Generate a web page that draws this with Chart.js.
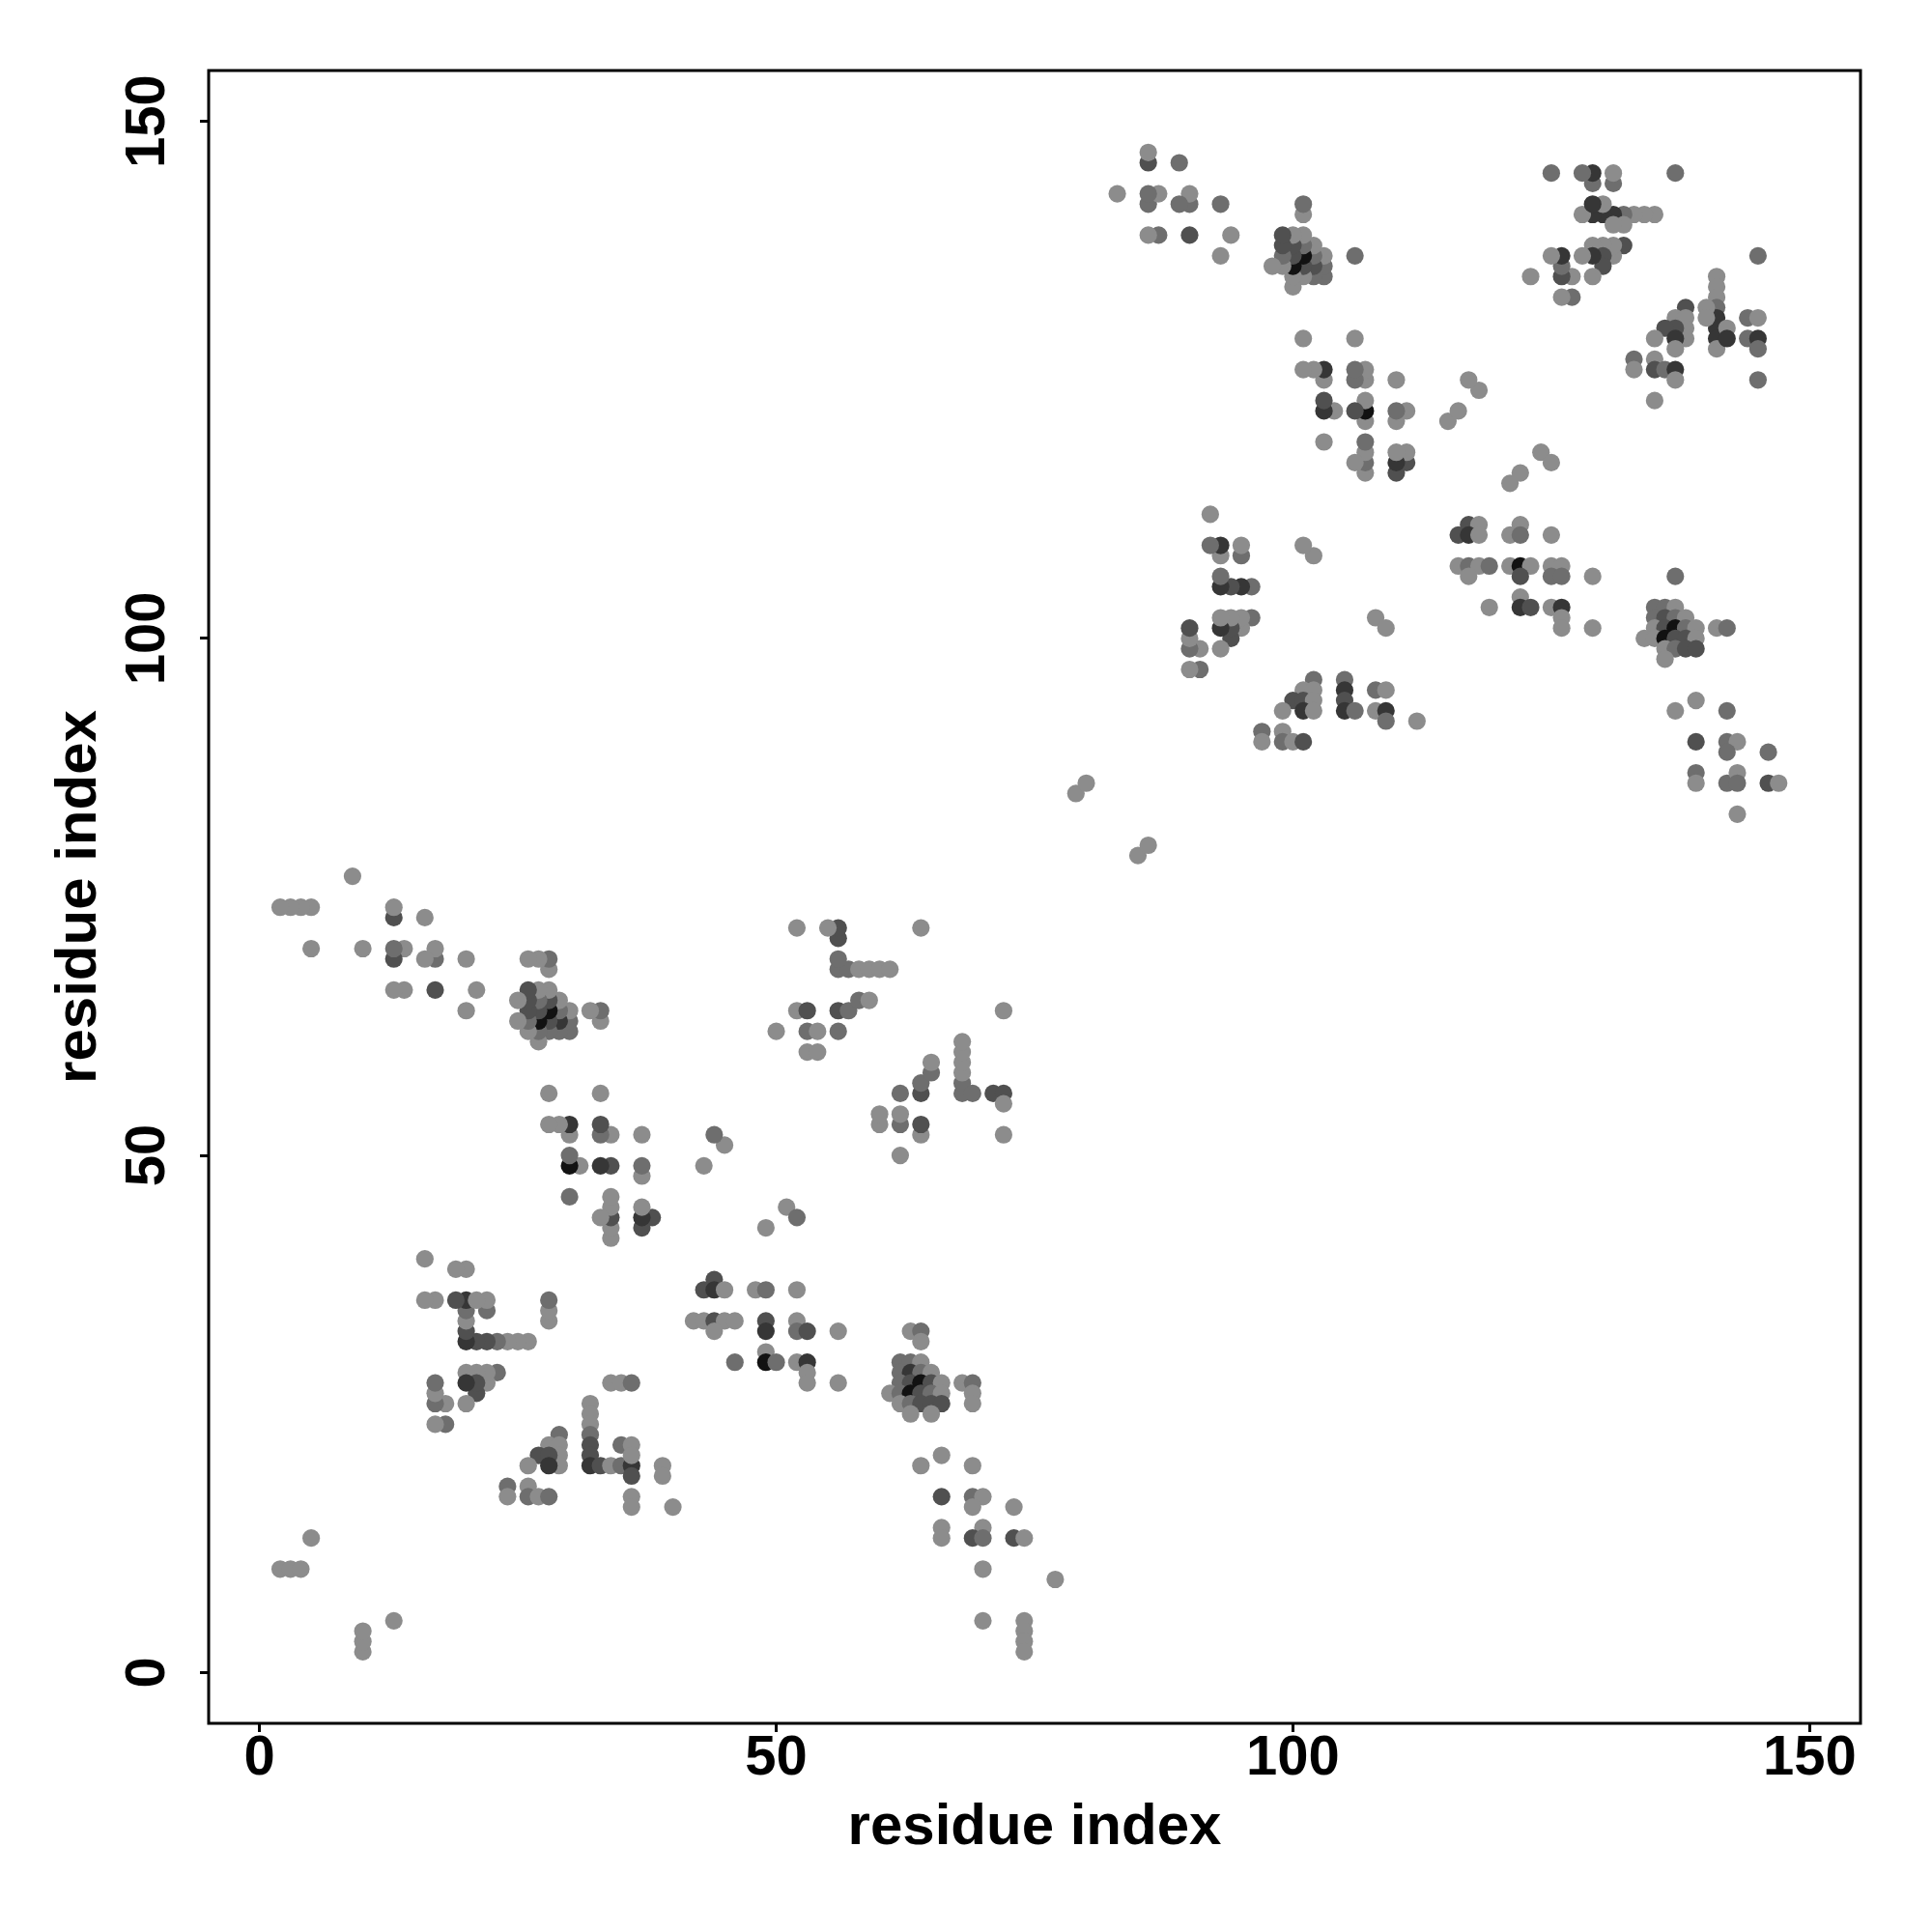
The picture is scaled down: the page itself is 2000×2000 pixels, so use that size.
<!DOCTYPE html>
<html><head><meta charset="utf-8">
<script src="https://cdn.jsdelivr.net/npm/chart.js@4.4.1/dist/chart.umd.min.js"></script>
<style>html,body{margin:0;padding:0;background:#fff}canvas{display:block}</style>
</head><body>
<canvas id="c" width="2000" height="2000"></canvas>
<script>
// Contact pairs read from the lower-right half (i > j); the map is symmetric.
const residueI = [
 10,10,10,13,
 34,35,36, 32,32,32,32,32,32,32, 33,34,35,36, 35,36,36,36,36,36, 39,39,40,
 29,28,27,29,29,29,28,28,26, 24,24,26,26,27,28,
 51,52,49, 44,43,44,45,48,49,52, 42,43,44,45,46,44, 49,49,52,52,53,56,
 46,49,49,50,52,53,53,53,56,
 63,64,64, 62,63,64, 62,63,64,65, 62,63,64,65,66, 61,62,63,64,65,66, 62,63,64,65,66, 63,65,
 68,69,69,69,
 64,66,69,66,69,70,69,73, 66,66,70,69,70,73,74, 70,77,70,74,74,74,74,
 62,60,60,62,62,64,64,62,64,64,65,65, 68,68,68,68,68,68,69,71,72,72,72,72,
 85,86,
 145, 141,141,141,141,141,141,141,141, 140,140,142,142, 144,145,144,145,145,145,
 138,137,138,138,138,137,136,137,137,135, 135,135,136,137,137, 133,133,135,
 117,118,116,117,118, 122,121,122,125,
 116,117,118,119,121,122,123,125,126, 117,122,125,126,129,
 119,122,122,123,125,126,126,126,129,
 124,125,121,122,
 137, 135,136,137, 135,136,137,138, 135,136,137,138,139, 134,135,136,137,138,139,
 136,137,138,139, 136, 141,142, 139,137,142, 139,142,143,142,146,
 139,139,142,143,143,146,147,143,
 108,109, 102,101,102,100,101,102,99,101,102, 105,105,105,105,106,
 108,109,108,109,109,112, 97,97,99,99,100,101
];
const residueJ = [
 2,3,4,5,
 28,28,28, 26,25,24,23,22,21,20, 20,20,20,20, 22,22,21,19,17,16, 20,19,16,
 23,22,21,22,21,20,21,20,20, 18,17,18,17,17,17,
 45,44,43, 38,37,37,37,37,37,37, 34,34,34,34,34,33, 34,33,34,33,33,33,
 30,31,30,30,30,30,29,28,28,
 33,33,32, 30,30,30, 29,29,29,29, 28,28,28,28,28, 27,27,27,27,27,27, 26,26,26,26,26, 25,25,
 28,28,27,26,
 20,21,20,17,17,17,16,16, 14,13,14,13,13,13,13, 10,9,5,5,4,3,2,
 50,53,54,53,54,52,53,56,56,57,58,59, 56,57,58,59,60,61,56,56,56,55,52,64,
 79,80,
 137, 135,134,133,132,131,130,129,128, 132,131,130,129, 131,131,129,129,128,125,
 132,131,131,130,129,130,130,129,128,129, 127,126,126,126,125, 127,126,123,
 111,111,110,110,110, 111,110,110,110,
 107,107,107,107,107,107,107,107,107, 106,106,106,106,106,
 103,104,103,103,103,103,102,101,101,
 118,117,115,116,
 106, 103,103,103, 102,102,102,102, 101,101,101,101,101, 100,100,100,100,100,100,
 99,99,99,99, 98, 101,101, 94,93,93, 90,90,90,89,89,
 87,86,86,87,86,86,86,83,
 102,101, 96,95,95,94,94,94,93,93,93, 96,95,94,93,93,
 95,95,93,93,92,92, 91,90,91,90,90,90
];
// shade level: 1 light grey ... 5 near black
const shade = [
 1,1,1,1,
 1,1,2, 1,1,1,2,3,3,4, 3,1,2,4, 2,1,1,3,1,1, 1,1,1,
 2,1,3,1,1,1,3,4,1, 2,1,1,2,1,2,
 1,2,1, 3,3,4,1,1,2,1, 1,1,3,1,1,1, 3,4,1,2,3,1,
 2,1,5,2,1,4,1,1,1,
 1,2,1, 2,2,1, 2,4,2,1, 2,3,5,3,1, 1,2,5,3,2,1, 1,2,3,3,3, 1,1,
 1,2,1,1,
 1,1,1,3,2,1,1,1, 1,1,1,3,2,3,1, 1,1,1,1,1,1,1,
 1,1,1,2,1,1,3,2,3,2,2,1, 2,2,1,1,1,1,2,3,3,1,1,1,
 1,1,
 2, 1,1,1,2,4,4,4,1, 1,1,1,4, 2,1,2,4,2,2,
 3,1,1,1,1,3,3,4,1,1, 1,3,2,4,1, 2,1,1,
 3,1,3,4,1, 1,1,2,1,
 1,2,1,2,1,5,1,1,1, 1,3,2,2,1,
 1,1,4,3,1,4,1,1,1,
 1,1,1,1,
 2, 2,2,1, 2,3,2,1, 1,3,5,2,1, 1,1,5,3,3,1,
 1,2,3,3, 1, 1,2, 1,1,2, 3,2,1,2,2,
 2,1,2,1,2,3,1,1,
 1,1, 2,1,1,3,3,1,1,4,1, 2,4,3,4,2,
 2,1,1,4,2,1, 2,1,1,2,1,3
];
const shadeColors = ['#8c8c8c', '#6e6e6e', '#505050', '#363636', '#121212'];
const xTicks = [0, 50, 100, 150];
const yTicks = [0, 50, 100, 150];
const axisMin = -4.92, axisMax = 154.92;
const axisTitle = 'residue index';

const pts = [], cols = [];
for (let k = 0; k < residueI.length; k++) {
  const c = shadeColors[shade[k] - 1];
  pts.push({x: residueI[k], y: residueJ[k]}); cols.push(c);
  pts.push({x: residueJ[k], y: residueI[k]}); cols.push(c);
}

const fam = "'Liberation Sans', Arial, Helvetica, sans-serif";
const tickFont = {family: fam, size: 58, weight: 'bold', lineHeight: 1};
const titleFont = {family: fam, size: 60, weight: 'bold', lineHeight: 1};

new Chart(document.getElementById('c'), {
  type: 'scatter',
  data: {datasets: [{
    data: pts,
    pointBackgroundColor: cols,
    backgroundColor: cols,
    pointRadius: 9.1,
    pointHoverRadius: 9.1,
    pointBorderWidth: 0,
    borderWidth: 0
  }]},
  options: {
    responsive: false,
    animation: false,
    devicePixelRatio: 1,
    events: [],
    layout: {padding: {top: 73, right: 74, left: 0, bottom: 0}},
    plugins: {legend: {display: false}, tooltip: {enabled: false}},
    scales: {
      x: {
        type: 'linear', position: 'bottom', min: axisMin, max: axisMax,
        afterBuildTicks: s => { s.ticks = xTicks.map(v => ({value: v})); },
        afterFit: s => { s.height = 216; },
        grid: {drawOnChartArea: false, drawTicks: true, tickLength: 9, tickWidth: 3, tickColor: '#000'},
        border: {display: false},
        ticks: {color: '#000', font: tickFont, padding: -1, maxRotation: 0, minRotation: 0, autoSkip: false},
        title: {display: true, text: axisTitle, color: '#000', font: titleFont, padding: {top: 0, bottom: 78}}
      },
      y: {
        type: 'linear', position: 'left', min: axisMin, max: axisMax,
        afterBuildTicks: s => { s.ticks = yTicks.map(v => ({value: v})); },
        afterFit: s => { s.width = 216; },
        grid: {drawOnChartArea: false, drawTicks: true, tickLength: 9, tickWidth: 3, tickColor: '#000'},
        border: {display: false},
        ticks: {color: '#000', font: tickFont, padding: 5, minRotation: 90, maxRotation: 90, crossAlign: 'center', autoSkip: false},
        title: {display: true, text: axisTitle, color: '#000', font: titleFont, padding: {top: 52, bottom: 0}}
      }
    }
  },
  plugins: [{
    id: 'box',
    afterDraw(chart) {
      const {ctx, chartArea: a} = chart;
      ctx.save();
      ctx.strokeStyle = '#000';
      ctx.lineWidth = 3;
      ctx.strokeRect(a.left, a.top, a.right - a.left, a.bottom - a.top);
      ctx.restore();
    }
  }]
});
</script>
</body></html>
